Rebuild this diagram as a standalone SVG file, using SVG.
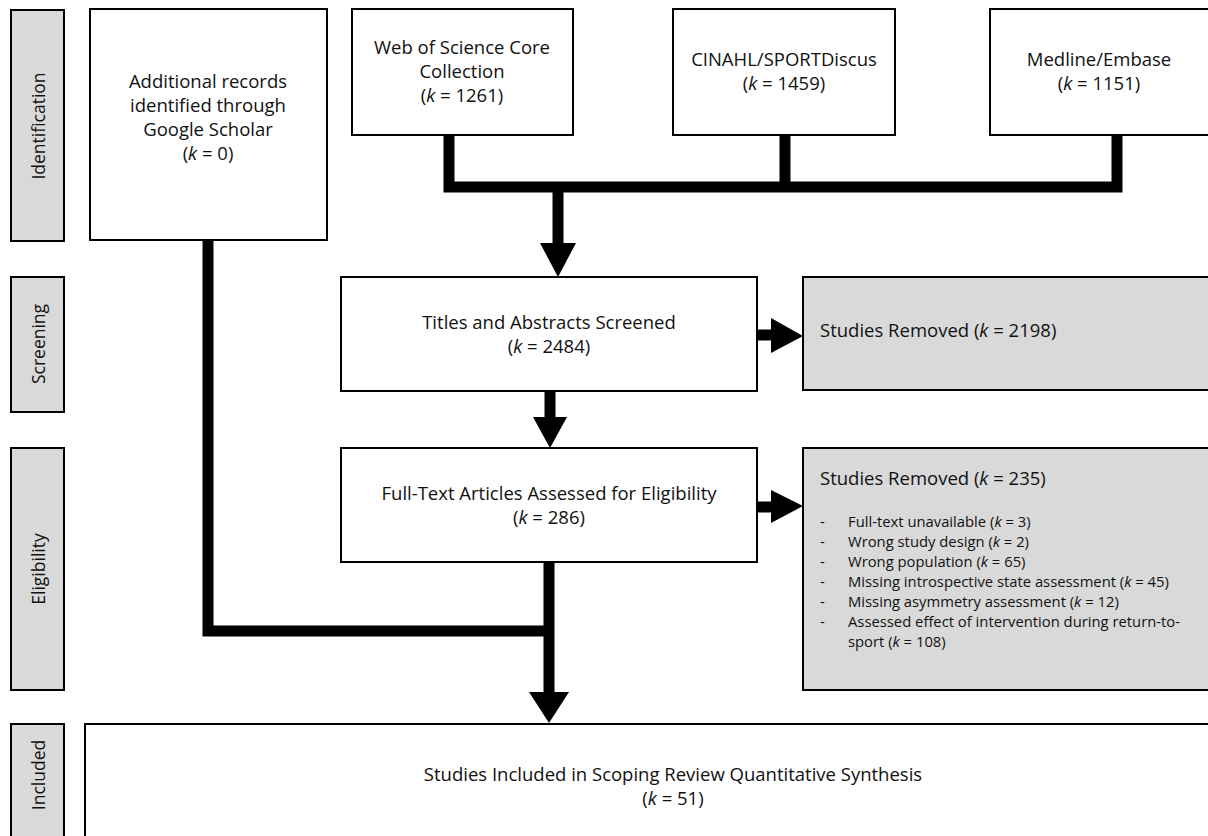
<svg xmlns="http://www.w3.org/2000/svg" width="1208" height="836" viewBox="0 0 1208 836">
<style>
.box{fill:#fff;stroke:#000;stroke-width:2}
.grey{fill:#d9d9d9;stroke:#000;stroke-width:2}
.t{font-family:"Open Sans","Liberation Sans",sans-serif;font-size:18.5px;fill:#111}
.c{text-anchor:middle}
.side{font-family:"Open Sans","Liberation Sans",sans-serif;font-size:17.5px;fill:#111;text-anchor:middle}
.s{font-family:"Open Sans","Liberation Sans",sans-serif;font-size:14.8px;fill:#111}
.ln{fill:none;stroke:#000;stroke-width:11}
.ah{fill:#000}
</style>
<rect width="1208" height="836" fill="#fff"/>
<g id="side-identification"><rect class="grey" x="11" y="10" width="53" height="231"/><text class="side" transform="translate(45,126) rotate(-90)">Identification</text></g>
<g id="side-screening"><rect class="grey" x="11" y="277" width="53" height="135"/><text class="side" transform="translate(45,344) rotate(-90)">Screening</text></g>
<g id="side-eligibility"><rect class="grey" x="11" y="448" width="53" height="242"/><text class="side" transform="translate(45,569) rotate(-90)">Eligibility</text></g>
<g id="side-included"><rect class="grey" x="11" y="724" width="53" height="120"/><text class="side" transform="translate(45,775) rotate(-90)">Included</text></g>

<g id="connectors">
<path class="ln" d="M449,135 V187 H1117 V135"/>
<path class="ln" d="M785,135 V187"/>
<path class="ln" d="M558,187 V245"/>
<polygon class="ah" points="540,243 576,243 558,277"/>
<path class="ln" d="M550,391 V419"/>
<polygon class="ah" points="533,417 567,417 550,448"/>
<path class="ln" d="M757,335 H773"/>
<polygon class="ah" points="771,318 771,353 803,336"/>
<path class="ln" d="M757,507 H773"/>
<polygon class="ah" points="771,490 771,523 803,506"/>
<path class="ln" d="M208,241 V631 H549"/>
<path class="ln" d="M549,562 V694"/>
<polygon class="ah" points="529,692 569,692 549,723"/>
</g>

<g id="google-scholar"><rect class="box" x="90" y="9" width="237" height="231"/>
<text class="t c" x="208" y="88">Additional records</text>
<text class="t c" x="208" y="112">identified through</text>
<text class="t c" x="208" y="136">Google Scholar</text>
<text class="t c" x="208" y="160">(<tspan font-style="italic">k</tspan> = 0)</text></g>

<g id="wos"><rect class="box" x="352" y="9" width="221" height="126"/>
<text class="t c" x="462" y="54">Web of Science Core</text>
<text class="t c" x="462" y="78">Collection</text>
<text class="t c" x="462" y="102">(<tspan font-style="italic">k</tspan> = 1261)</text></g>

<g id="cinahl"><rect class="box" x="673" y="9" width="222" height="126"/>
<text class="t c" x="784" y="66">CINAHL/SPORTDiscus</text>
<text class="t c" x="784" y="90">(<tspan font-style="italic">k</tspan> = 1459)</text></g>

<g id="medline"><rect class="box" x="990" y="9" width="222" height="126"/>
<text class="t c" x="1099" y="66">Medline/Embase</text>
<text class="t c" x="1099" y="90">(<tspan font-style="italic">k</tspan> = 1151)</text></g>

<g id="screened"><rect class="box" x="341" y="277" width="416" height="114"/>
<text class="t c" x="549" y="329">Titles and Abstracts Screened</text>
<text class="t c" x="549" y="353">(<tspan font-style="italic">k</tspan> = 2484)</text></g>

<g id="removed1"><rect class="grey" x="803" y="277" width="410" height="113"/>
<text class="t" x="820" y="337">Studies Removed (<tspan font-style="italic">k</tspan> = 2198)</text></g>

<g id="fulltext"><rect class="box" x="341" y="448" width="416" height="114"/>
<text class="t c" x="549" y="500">Full-Text Articles Assessed for Eligibility</text>
<text class="t c" x="549" y="524">(<tspan font-style="italic">k</tspan> = 286)</text></g>

<g id="removed2"><rect class="grey" x="803" y="448" width="410" height="242"/>
<text class="t" x="820" y="485">Studies Removed (<tspan font-style="italic">k</tspan> = 235)</text>
<g class="s">
<text x="820" y="527">-</text><text x="848" y="527">Full-text unavailable (<tspan font-style="italic">k</tspan> = 3)</text>
<text x="820" y="547">-</text><text x="848" y="547">Wrong study design (<tspan font-style="italic">k</tspan> = 2)</text>
<text x="820" y="567">-</text><text x="848" y="567">Wrong population (<tspan font-style="italic">k</tspan> = 65)</text>
<text x="820" y="587">-</text><text x="848" y="587">Missing introspective state assessment (<tspan font-style="italic">k</tspan> = 45)</text>
<text x="820" y="607">-</text><text x="848" y="607">Missing asymmetry assessment (<tspan font-style="italic">k</tspan> = 12)</text>
<text x="820" y="627">-</text><text x="848" y="627">Assessed effect of intervention during return-to-</text>
<text x="848" y="647">sport (<tspan font-style="italic">k</tspan> = 108)</text>
</g></g>

<g id="included"><rect class="box" x="85" y="724" width="1130" height="130"/>
<text class="t c" x="673" y="781">Studies Included in Scoping Review Quantitative Synthesis</text>
<text class="t c" x="673" y="805">(<tspan font-style="italic">k</tspan> = 51)</text></g>
</svg>
